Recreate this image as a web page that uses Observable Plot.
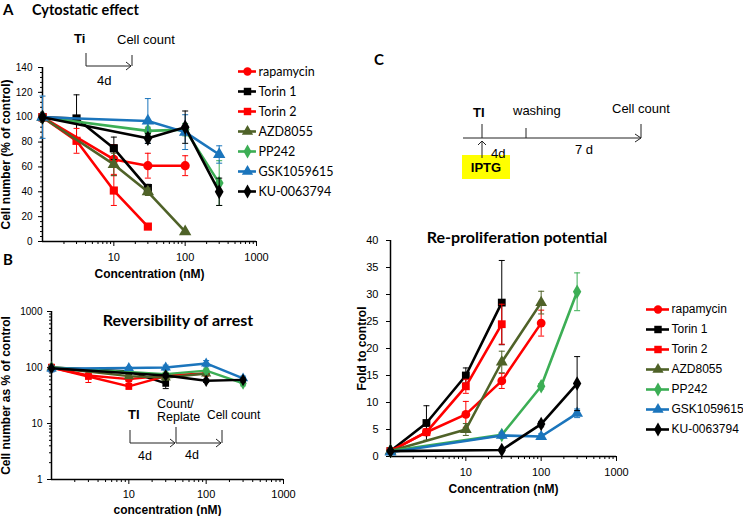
<!DOCTYPE html>
<html>
<head>
<meta charset="utf-8">
<script src="https://cdn.jsdelivr.net/npm/d3@7"></script>
<script src="https://cdn.jsdelivr.net/npm/@observablehq/plot@0.6"></script>
<style>
  body { margin: 0; background: #fff; }
  #fig { position: relative; width: 743px; height: 516px; overflow: hidden; background: #fff;
         font-family: "Liberation Sans", Arial, sans-serif; }
  #fig svg { overflow: visible; }
</style>
</head>
<body>
<div id="fig"></div>
<script>
// ---------------- data ----------------
const conc = [1, 3, 10, 30, 100, 300];
const drugs = ["rapamycin", "Torin 1", "Torin 2", "AZD8055", "PP242", "GSK1059615", "KU-0063794"];
const drugColors = ["#ff0000", "#000000", "#ff0000", "#4f6228", "#3cae55", "#1b75bc", "#000000"];
const drugSymbols = ["circle", "square", "square", "triangle", "diamond", "triangle", "diamond"];

// Panel A: cytostatic effect, cell number (% of control)
const cytoMean = [
  [100, null, 66, 61, 61, null],
  [100, 99, 75, 43, null, null],
  [100, 81, 41, 12, null, null],
  [100, null, 62, 40, 8, null],
  [100, null, null, 89, 90, 47],
  [100, null, null, 97, 88, 70],
  [100, null, null, 83, 92, 40]
];
const cytoErr = [
  [2, null, 12, 10, 8, null],
  [3, 19, 9, 3, null, null],
  [2, 10, 12, 2, null, null],
  [2, null, 9, 3, 1, null],
  [2, null, null, 3, 5, 18],
  [17, null, null, 18, 14, 7],
  [2, null, null, 4, 13, 11]
];

// Panel B: reversibility of arrest, cell number as % of control (log)
const revMean = [
  [100, 72, 62, 72, 78, null],
  [100, null, 85, 52, null, null],
  [100, 69, 46, 70, null, null],
  [100, null, 70, 66, 78, null],
  [100, null, null, 76, 88, 52],
  [95, null, 98, 100, 118, 64],
  [97, null, null, 72, 58, 60]
];
const revErr = [
  [5, 8, 6, 6, 6, null],
  [5, null, 8, 10, null, null],
  [15, 15, 5, 5, null, null],
  [5, null, 6, 6, 6, null],
  [5, null, null, 6, 6, 5],
  [12, null, 5, 10, 15, 6],
  [5, null, null, 6, 4, 5]
];

// Panel C: re-proliferation potential, fold to control
const reproMean = [
  [1, 4.5, 7.8, 14, 24.7, null],
  [1, 6.2, 15, 28.5, null, null],
  [1, 4.5, 13, 24.5, null, null],
  [1, null, 5, 17.5, 28.5, null],
  [1, null, null, 4, 13, 30.5],
  [0.8, null, null, 3.9, 3.7, 8],
  [1, null, null, 1.2, 6, 13.5]
];
const reproErr = [
  [0.3, 0.5, 2.4, 1.4, 2.4, null],
  [0.3, 3.2, 1.4, 7.8, null, null],
  [0.3, 0.5, 1.3, 3.7, null, null],
  [0.3, null, 1.1, 2.0, 2.1, null],
  [0.3, null, null, 0.5, 0.5, 3.5],
  [0.3, null, null, 0.5, 0.5, 0.8],
  [0.3, null, null, 0.3, 0.5, 5.0]
];

// tick labels
const xMajor = [10, 100, 1000];
const cytoTicks = [0, 20, 40, 60, 80, 100, 120, 140];
const revTicks = [1, 10, 100, 1000];
const reproTicks = [0, 5, 10, 15, 20, 25, 30, 35, 40];

// ---------------- helpers ----------------
const fig = document.getElementById("fig");
function place(el, left, top) {
  el.style.position = "absolute";
  el.style.left = left + "px";
  el.style.top = top + "px";
  fig.appendChild(el);
}
const logMinor = [1, 10, 100].flatMap(p => [2, 3, 4, 5, 6, 7, 8, 9].map(m => m * p));
const cap = { draw(ctx, size) { const w = Math.sqrt(size / Math.PI); ctx.moveTo(-w, 0); ctx.lineTo(w, 0); } };

function toRows(mean, err) {
  return drugs.flatMap((drug, i) =>
    conc.map((c, j) => ({ drug, i, c, v: mean[i][j], e: err[i][j] })).filter(d => d.v != null));
}

function seriesMarks(rows, i, r, sw) {
  const d = rows.filter(x => x.i === i);
  const de = d.filter(x => x.e);
  const color = drugColors[i];
  return [
    Plot.line(d, { x: "c", y: "v", stroke: color, strokeWidth: sw }),
    Plot.ruleX(de, { x: "c", y1: x => x.v - x.e, y2: x => x.v + x.e, stroke: color, strokeWidth: 1 }),
    Plot.dot(de, { x: "c", y: x => x.v + x.e, symbol: cap, r: 3, stroke: color, fill: "none", strokeWidth: 1 }),
    Plot.dot(de, { x: "c", y: x => x.v - x.e, symbol: cap, r: 3, stroke: color, fill: "none", strokeWidth: 1 }),
    Plot.dot(d, { x: "c", y: "v", symbol: drugSymbols[i], r, fill: color, stroke: "none" })
  ];
}

function xAxes(pad) {
  return [
    Plot.axisX({ ticks: logMinor, tickSize: 3, tickFormat: () => "", label: null }),
    Plot.axisX({ ticks: xMajor, tickSize: 5, tickPadding: pad, tickFormat: d => String(d), label: null, fontSize: 11 })
  ];
}
function yTitle(text, dx) {
  return Plot.text([text], { frameAnchor: "left", dx, rotate: -90, textAnchor: "middle", lineAnchor: "middle", fontWeight: "bold", fontSize: 12 });
}
function xTitle(text, dy) {
  return Plot.text([text], { frameAnchor: "bottom", dy, textAnchor: "middle", lineAnchor: "middle", fontWeight: "bold", fontSize: 12 });
}

const baseStyle = { fontFamily: "'Liberation Sans', Arial, sans-serif", fontSize: "10px", background: "transparent", color: "#000", overflow: "visible" };

// ---------------- Panel A ----------------
const rowsA = toRows(cytoMean, cytoErr);
const plotA = Plot.plot({
  width: 270, height: 280,
  marginLeft: 42, marginRight: 14, marginTop: 67, marginBottom: 39,
  style: baseStyle,
  x: { type: "log", domain: [1, 1000], label: null },
  y: { domain: [0, 140], label: null },
  marks: [
    Plot.axisY({ ticks: d3.range(0, 141, 4), tickSize: 2, tickFormat: () => "", label: null }),
    Plot.axisY({ ticks: cytoTicks, tickSize: 4, tickPadding: 6, tickFormat: d => String(d), label: null, fontSize: 10 }),
    ...xAxes(7),
    Plot.ruleY([0], { stroke: "#000", strokeWidth: 1.5 }),
    Plot.ruleX([1], { stroke: "#000", strokeWidth: 1.5 }),
    ...drugs.flatMap((_, i) => seriesMarks(rowsA, i, 4.6, 2.6)),
    yTitle("Cell number (% of control)", -36),
    xTitle("Concentration (nM)", 33)
  ]
});
place(plotA, 0, 0);

// ---------------- Panel B ----------------
const rowsB = toRows(revMean, revErr);
const plotB = Plot.plot({
  width: 300, height: 226,
  marginLeft: 51, marginRight: 17, marginTop: 21, marginBottom: 37,
  style: baseStyle,
  x: { type: "log", domain: [1, 1000], label: null },
  y: { type: "log", domain: [1, 1000], label: null },
  marks: [
    Plot.axisY({ ticks: logMinor, tickSize: 2, tickFormat: () => "", label: null }),
    Plot.axisY({ ticks: revTicks, tickSize: 4, tickPadding: 5, tickFormat: d => String(d), label: null, fontSize: 10 }),
    ...xAxes(6),
    Plot.ruleY([1], { stroke: "#000", strokeWidth: 1.5 }),
    Plot.ruleX([1], { stroke: "#000", strokeWidth: 1.5 }),
    ...drugs.flatMap((_, i) => seriesMarks(rowsB, i, 3.8, 2.4)),
    yTitle("Cell number as % of control", -45),
    xTitle("concentration (nM)", 31)
  ]
});
place(plotB, 0, 290);

// ---------------- Panel C ----------------
const rowsC = toRows(reproMean, reproErr);
const plotC = Plot.plot({
  width: 290, height: 280,
  marginLeft: 50, marginRight: 14, marginTop: 20, marginBottom: 44,
  style: baseStyle,
  x: { type: "log", domain: [1, 1000], label: null },
  y: { domain: [0, 40], label: null },
  marks: [
    Plot.axisY({ ticks: reproTicks, tickSize: 4, tickPadding: 8, tickFormat: d => String(d), label: null, fontSize: 11 }),
    ...xAxes(7),
    Plot.ruleY([0], { stroke: "#000", strokeWidth: 1.5 }),
    Plot.ruleX([1], { stroke: "#000", strokeWidth: 1.5 }),
    ...drugs.flatMap((_, i) => seriesMarks(rowsC, i, 4.4, 2.6)),
    yTitle("Fold to control", -28),
    xTitle("Concentration (nM)", 33)
  ]
});
place(plotC, 340, 220);

// ---------------- Legends ----------------
function legend(width, height, yRange, xRange, font, fontSize) {
  return Plot.plot({
    width, height, margin: 0,
    style: { fontFamily: font, fontSize: fontSize + "px", background: "transparent", overflow: "visible" },
    x: { domain: [0, 1], range: xRange, axis: null },
    y: { type: "point", domain: drugs, range: yRange, padding: 0, axis: null },
    marks: drugs.flatMap((name, i) => [
      Plot.ruleY([name], { y: d => d, x1: 0, x2: 1, stroke: drugColors[i], strokeWidth: 2.6 }),
      Plot.dot([name], { x: 0.5, y: d => d, symbol: drugSymbols[i], r: 4.2, fill: drugColors[i], stroke: "none" }),
      Plot.text([name], { x: 1, y: d => d, text: d => d, dx: 2, textAnchor: "start", fontSize, fill: "#000" })
    ])
  });
}
place(legend(115, 145, [11, 131], [8, 26], "Lato, 'Open Sans', sans-serif", 12.5), 230, 60);
place(legend(103, 140, [9, 129], [6, 29], "'Liberation Sans', Arial, sans-serif", 12), 640, 300);

// ---------------- annotations ----------------
const ann = document.createElementNS("http://www.w3.org/2000/svg", "svg");
ann.setAttribute("width", 743);
ann.setAttribute("height", 516);
ann.style.pointerEvents = "none";
ann.innerHTML = `
<g font-family="Lato, sans-serif" font-weight="bold" fill="#000">
  <text x="3" y="15" font-size="15">A</text>
  <text x="32" y="15" font-size="14.5">Cytostatic effect</text>
  <text x="3" y="265" font-size="15">B</text>
  <text x="178" y="326" font-size="16" text-anchor="middle">Reversibility of arrest</text>
  <text x="374" y="65" font-size="15">C</text>
  <text x="517" y="243" font-size="16" text-anchor="middle">Re-proliferation potential</text>
</g>
<g font-family="'Liberation Sans', Arial, sans-serif" fill="#000">
  <text x="74" y="43" font-size="13" font-weight="bold">Ti</text>
  <text x="117" y="44" font-size="13">Cell count</text>
  <text x="97" y="85" font-size="13">4d</text>

  <text x="128" y="419" font-size="13" font-weight="bold">TI</text>
  <text x="157" y="408" font-size="12.5">Count/</text>
  <text x="157" y="421" font-size="12.5">Replate</text>
  <text x="207" y="419" font-size="12">Cell count</text>
  <text x="138" y="460" font-size="12.5">4d</text>
  <text x="185" y="459" font-size="12.5">4d</text>

  <text x="473" y="117" font-size="13" font-weight="bold">TI</text>
  <text x="513" y="115" font-size="13">washing</text>
  <text x="612" y="113" font-size="13">Cell count</text>
  <rect x="462" y="155" width="48" height="24" fill="#ffff00"></rect>
  <text x="491" y="158" font-size="13">4d</text>
  <text x="575" y="154" font-size="13">7 d</text>
  <text x="486" y="172" font-size="13" font-weight="bold" text-anchor="middle">IPTG</text>
</g>
<g fill="none" stroke="#222" stroke-width="1">
  <path d="M86,53V66H131M126,62L131,66L126,70M132,55V66"></path>
  <path d="M130,430V443H175M170,439L175,443L170,447M176,427V443H221M216,439L221,443L216,447M222,430V443"></path>
  <path d="M463,138H641M635,134L641,138L635,142M482,124V138M526,128V138M641,124V138"></path>
  <path d="M482,158V141M478,145L482,141L486,145"></path>
</g>`;
place(ann, 0, 0);
</script>
</body>
</html>
